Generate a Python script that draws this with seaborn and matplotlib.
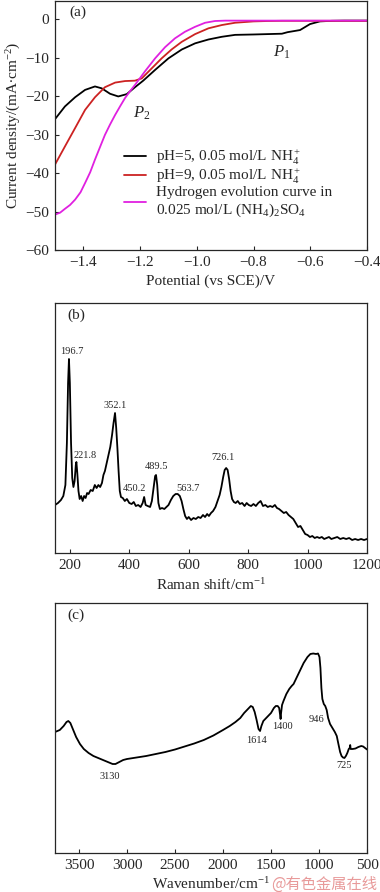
import matplotlib
matplotlib.use("Agg")
import matplotlib.pyplot as plt
import seaborn as sns
import pandas as pd
import numpy as np

# ---- (a) polarization curves ----
v_ph5 = [-1.5, -1.465, -1.429, -1.394, -1.359, -1.335, -1.306, -1.277, -1.247, -1.218, -1.189,
         -1.147, -1.100, -1.053, -1.006, -0.959, -0.912, -0.865, -0.80, -0.75, -0.70, -0.68,
         -0.636, -0.601, -0.566, -0.524, -0.48, -0.44, -0.40]
j_ph5 = [-26.0, -22.7, -20.3, -18.4, -17.5, -18.0, -19.4, -20.1, -19.5, -17.7, -16.0,
         -13.2, -10.2, -7.9, -6.3, -5.3, -4.6, -4.1, -4.0, -3.9, -3.8, -3.4,
         -2.85, -1.3, -0.6, -0.45, -0.4, -0.4, -0.4]

v_ph9 = [-1.5, -1.465, -1.429, -1.394, -1.359, -1.324, -1.288, -1.253, -1.218, -1.194, -1.159,
         -1.124, -1.089, -1.053, -1.006, -0.959, -0.912, -0.865, -0.80, -0.75, -0.70, -0.60,
         -0.50, -0.40]
j_ph9 = [-37.8, -33.1, -28.3, -23.6, -20.3, -17.7, -16.5, -16.1, -16.0, -15.4, -12.8,
         -10.2, -7.9, -5.9, -3.9, -2.4, -1.55, -0.95, -0.6, -0.5, -0.45, -0.45,
         -0.45, -0.45]

v_her = [-1.5, -1.482, -1.465, -1.447, -1.429, -1.41, -1.394, -1.376, -1.359, -1.341, -1.324,
         -1.306, -1.288, -1.27, -1.253, -1.235, -1.218, -1.2, -1.183, -1.165, -1.147,
         -1.112, -1.077, -1.042, -1.006, -0.971, -0.936, -0.90, -0.80, -0.70, -0.60, -0.50, -0.40]
j_her = [-50.8, -50.3, -49.3, -48.3, -46.9, -45.0, -42.6, -39.8, -36.5, -33.2, -30.1,
         -27.4, -24.9, -22.6, -20.5, -18.7, -17.1, -15.3, -13.6, -11.9, -10.2,
         -7.3, -5.0, -3.3, -2.0, -0.96, -0.5, -0.4, -0.4, -0.4, -0.4, -0.4, -0.4]

curve_labels = ["pH=5, 0.05 mol/L NH$_4^+$",
                "pH=9, 0.05 mol/L NH$_4^+$",
                "Hydrogen evolution curve in\n0.025 mol/L (NH$_4$)$_2$SO$_4$"]
curve_colors = ["black", "#cc2222", "#e020e0"]

# ---- (b) Raman spectrum ----
raman_shift = [150, 160, 170, 178, 185, 190, 194, 197, 200, 204, 208, 212, 216, 220, 222, 225, 229,
               233, 238, 243, 248, 253, 258, 263, 270, 277, 284, 290, 296, 302, 308, 313, 318,
               324, 330, 336, 342, 347, 352, 356, 360, 364, 368, 372, 378, 385, 392, 400, 408,
               415, 422, 430, 438, 445, 450, 455, 462, 470, 476, 482, 487, 490, 494, 498, 503,
               510, 518, 525, 532, 540, 548, 556, 563, 570, 576, 582, 588, 594, 600, 608, 616,
               624, 632, 640, 648, 655, 662, 668, 675, 682, 690, 697, 704, 710, 716, 721, 726,
               731, 736, 741, 746, 752, 758, 765, 772, 780, 788, 795, 802, 810, 818, 826, 834,
               842, 850, 858, 866, 874, 882, 890, 897, 904, 912, 920, 928, 936, 944, 952, 960,
               968, 976, 984, 992, 1000, 1008, 1016, 1024, 1032, 1040, 1048, 1056, 1064, 1072,
               1080, 1090, 1100, 1110, 1120, 1130, 1140, 1150, 1160, 1170, 1180, 1190, 1200]
raman_int = [48, 50, 53, 57, 68, 110, 170, 194, 170, 110, 75, 66, 72, 88, 91, 80, 62,
             54, 57, 52, 57, 55, 60, 59, 63, 62, 68, 65, 68, 66, 70, 78, 82,
             90, 98, 106, 118, 130, 140, 125, 105, 82, 62, 56, 55, 52, 54, 50, 49,
             51, 47, 48, 46, 50, 56, 48, 47, 46, 52, 66, 77, 78, 68, 50, 44,
             45, 44, 46, 48, 53, 57, 59, 59, 57, 52, 44, 37, 34, 36, 33, 35,
             34, 36, 35, 38, 36, 39, 37, 40, 42, 46, 52, 58, 66, 76, 83, 85,
             83, 74, 62, 54, 51, 50, 52, 49, 50, 47, 50, 48, 47, 49, 47, 50,
             52, 47, 48, 46, 47, 46, 48, 45, 44, 42, 40, 41, 38, 36, 34, 30,
             26, 27, 23, 19, 18, 16, 17, 15, 16, 15, 16, 14, 15, 16,
             14, 15, 16, 14, 15, 14, 15, 13, 14, 13, 14, 13, 14]
raman_peaks = ["196.7", "221.8", "352.1", "450.2", "489.5", "563.7", "726.1"]
raman_peak_x = [206, 251, 352, 419, 492, 599, 714]
raman_peak_y = [201, 98, 148, 64.7, 86.3, 64.7, 95.7]

# ---- (c) FTIR spectrum ----
wavenumber = [3750, 3700, 3660, 3630, 3611, 3590, 3560, 3530, 3490, 3450, 3400, 3350, 3300, 3250,
              3200, 3150, 3120, 3080, 3040, 3000, 2900, 2800, 2700, 2600, 2500, 2400, 2300, 2200,
              2100, 2000, 1930, 1870, 1820, 1780, 1740, 1710, 1690, 1670, 1650, 1630, 1614, 1600,
              1580, 1560, 1530, 1500, 1470, 1450, 1430, 1415, 1405, 1400, 1395, 1385, 1370, 1340,
              1310, 1285, 1265, 1240, 1200, 1160, 1120, 1090, 1060, 1030, 1010, 995, 985, 975,
              965, 950, 935, 920, 905, 885, 860, 835, 815, 800, 780, 765, 750, 735, 720, 705,
              690, 680, 675, 670, 650, 620, 590, 560, 540, 520, 500]
transmittance = [121, 123, 127, 131, 132, 130, 123, 116, 109, 104, 100, 97, 95, 93,
                 91, 89, 89, 91, 93, 94, 95.5, 97, 99, 101, 103.5, 106.5, 109.5, 113,
                 117.5, 123, 127, 131, 135, 140, 144, 147, 146, 141, 133, 124, 122, 127,
                 132, 134, 137, 140, 145, 147, 147, 145, 138, 134, 140, 148, 152, 159,
                 164, 167, 169, 174, 182, 190, 196, 199, 199.5, 199, 199.5, 196, 185, 165,
                 154, 149, 147, 143, 135, 129, 125, 121, 117, 110, 101, 97, 95.5, 95, 97, 100,
                 104, 105, 108, 104, 104, 104.5, 106, 107, 106.5, 105, 103.5]
ir_peaks = ["3130", "1614", "1400", "946", "725"]
ir_peak_x = [3178, 1649, 1378, 1024, 736]
ir_peak_y = [76.7, 112.7, 126.7, 133.7, 87.7]

sns.set_style("ticks")
plt.rcParams["font.family"] = ["Liberation Serif", "DejaVu Serif"]
plt.rcParams["mathtext.fontset"] = "custom"
plt.rcParams["mathtext.rm"] = "Liberation Serif"
plt.rcParams["mathtext.it"] = "Liberation Serif:italic"
plt.rcParams["font.size"] = 11
plt.rcParams["xtick.direction"] = "in"
plt.rcParams["ytick.direction"] = "in"
plt.rcParams["axes.linewidth"] = 0.9

fig = plt.figure(figsize=(3.8, 8.92), dpi=100)
W, H = 380, 892


def rect(left, top, right, bottom):
    return [left / W, 1 - bottom / H, (right - left) / W, (bottom - top) / H]


# (a)
ax_a = fig.add_axes(rect(55, 1, 367, 250))
frames = []
for v, j, lab in zip([v_ph5, v_ph9, v_her], [j_ph5, j_ph9, j_her], curve_labels):
    frames.append(pd.DataFrame({"V": v, "j": j, "curve": lab}))
df_a = pd.concat(frames, ignore_index=True)
sns.lineplot(data=df_a, x="V", y="j", hue="curve", palette=curve_colors,
             estimator=None, sort=False, linewidth=1.3, ax=ax_a)
ax_a.set_xlim(-1.5, -0.4)
ax_a.set_ylim(-60, 4.7)
ax_a.set_xticks(np.arange(-1.4, -0.39, 0.2))
ax_a.set_yticks(np.arange(-60, 1, 10))
ax_a.set_xlabel("Potential (vs SCE)/V", labelpad=4)
ax_a.set_ylabel("Current density/(mA$\\bullet$cm$^{-2}$)", labelpad=2)
ax_a.legend(loc="upper left", bbox_to_anchor=(0.2, 0.435), frameon=False, fontsize=11,
            handlelength=1.5, handletextpad=0.6, labelspacing=0.0, borderaxespad=0)
ax_a.text(0.045, 0.955, "(a)", transform=ax_a.transAxes, ha="left", va="center", fontsize=11)
ax_a.text(-0.70, -8.5, "$P_1$", fontsize=12, ha="center", va="center")
ax_a.text(-1.194, -24.4, "$P_2$", fontsize=12, ha="center", va="center")
ax_a.tick_params(length=3, pad=4)

# (b)
ax_b = fig.add_axes(rect(55, 303, 367, 553))
sns.lineplot(x=raman_shift, y=raman_int, color="black", linewidth=1.3, estimator=None, ax=ax_b)
ax_b.set_xlim(150, 1200)
ax_b.set_ylim(0, 250)
ax_b.set_xticks(range(200, 1201, 200))
ax_b.set_yticks([])
ax_b.set_xlabel("Raman shift/cm$^{-1}$", labelpad=4)
for lab, x, y in zip(raman_peaks, raman_peak_x, raman_peak_y):
    ax_b.text(x, y, lab, fontsize=7.5, ha="center", va="center")
ax_b.text(0.04, 0.95, "(b)", transform=ax_b.transAxes, ha="left", va="center", fontsize=11)
ax_b.tick_params(length=3, pad=4)

# (c)
ax_c = fig.add_axes(rect(55, 603, 367, 853))
sns.lineplot(x=wavenumber, y=transmittance, color="black", linewidth=1.3, estimator=None, ax=ax_c)
ax_c.set_xlim(3750, 500)
ax_c.set_ylim(0, 250)
ax_c.set_xticks(range(3500, 499, -500))
ax_c.set_yticks([])
ax_c.set_xlabel("Wavenumber/cm$^{-1}$", labelpad=3)
for lab, x, y in zip(ir_peaks, ir_peak_x, ir_peak_y):
    ax_c.text(x, y, lab, fontsize=7.5, ha="center", va="center")
ax_c.text(0.04, 0.95, "(c)", transform=ax_c.transAxes, ha="left", va="center", fontsize=11)
ax_c.tick_params(length=3, pad=4)

fig.text(377 / W, 1 - 884 / H, "@有色金属在线", color="#e89a9a", fontsize=11,
         ha="right", va="center", family=["Noto Sans CJK SC", "DejaVu Sans"])

fig.savefig("out.png", dpi=100)
